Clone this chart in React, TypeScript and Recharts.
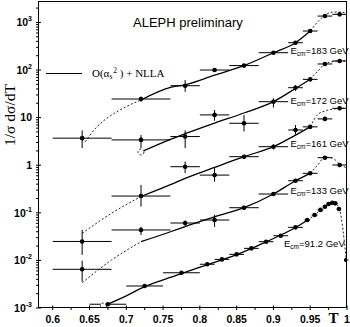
import React from "react";
import { ComposedChart, XAxis, YAxis, Scatter, Line, ErrorBar } from "recharts";

// ---- measured values (T, 1/sigma dsigma/dT) ----
const t183 = [0.64, 0.72, 0.78, 0.82, 0.86, 0.9, 0.93, 0.95, 0.97, 0.99];
const v183 = [3.7, 24.6, 46.8, 100, 124, 231, 375, 660, 1360, 1480];
const dx183 = [0.04, 0.04, 0.02, 0.02, 0.02, 0.02, 0.01, 0.01, 0.01, 0.01];
const lo183 = [1.4, 3, 12, 8, 8, 12, 20, 30, 60, 60];
const hi183 = [1.7, 3, 15, 8, 8, 12, 20, 30, 60, 60];

const t172 = [0.72, 0.78, 0.82, 0.86, 0.9, 0.93, 0.95, 0.97, 0.99];
const v172 = [3.4, 4.0, 11.4, 7.6, 21.6, 42.5, 63.7, 134, 155];
const dx172 = [0.04, 0.02, 0.02, 0.02, 0.02, 0.01, 0.01, 0.01, 0.01];
const lo172 = [1.1, 1.7, 2.8, 2.5, 5.3, 6, 5, 8, 8];
const hi172 = [0.9, 1.4, 3.1, 3.8, 4.0, 6, 5, 8, 8];

const t161 = [0.64, 0.72, 0.78, 0.82, 0.86, 0.9, 0.93, 0.95, 0.97, 0.99];
const v161 = [0.025, 0.225, 0.93, 0.62, 1.51, 2.45, 5.5, 6.4, 9.4, 15.7];
const dx161 = [0.04, 0.04, 0.02, 0.02, 0.02, 0.02, 0.01, 0.01, 0.01, 0.01];
const lo161 = [0.012, 0.09, 0.25, 0.17, 0.15, 0.3, 1.1, 0.6, 1, 1];
const hi161 = [0.019, 0.16, 0.27, 0.25, 0.15, 0.3, 1.5, 0.6, 1, 1];

const t133 = [0.64, 0.72, 0.78, 0.82, 0.86, 0.9, 0.93, 0.95, 0.97, 0.99];
const v133 = [0.0065, 0.0436, 0.061, 0.0706, 0.128, 0.248, 0.472, 0.676, 1.44, 1.01];
const dx133 = [0.04, 0.04, 0.02, 0.02, 0.02, 0.02, 0.01, 0.01, 0.01, 0.01];
const lo133 = [0.0029, 0.0096, 0.008, 0.02, 0.012, 0.02, 0.04, 0.05, 0.1, 0.1];
const hi133 = [0.0034, 0.0074, 0.008, 0.02, 0.012, 0.02, 0.04, 0.05, 0.1, 0.1];

const t91 = [0.675, 0.725, 0.775, 0.81, 0.83, 0.85, 0.87, 0.89, 0.91, 0.93, 0.946, 0.956, 0.964, 0.97, 0.975, 0.98, 0.984, 0.989, 0.999];
const v91 = [0.0012, 0.0029, 0.0055, 0.0083, 0.0105, 0.0134, 0.0179, 0.0247, 0.033, 0.0495, 0.0706, 0.09, 0.115, 0.134, 0.153, 0.163, 0.158, 0.12, 0.0102];
const dx91 = [0.025, 0.025, 0.025, 0.01, 0.01, 0.01, 0.01, 0.01, 0.01, 0.01, 0.004, 0.004, 0.004, 0.003, 0.003, 0.003, 0.003, 0.003, 0.003];

// ---- O(as^2)+NLLA curves ----
const ct183 = [0.644, 0.66, 0.68, 0.7, 0.72, 0.76, 0.78, 0.82, 0.86, 0.9, 0.93, 0.95, 0.96, 0.97, 0.98, 0.99, 1.0];
const cv183 = [3.1, 6.4, 11.3, 17, 23.5, 43, 49, 78, 124, 231, 375, 660, 1020, 1400, 1650, 1650, 1540];
const ct172 = [0.72, 0.76, 0.78, 0.82, 0.86, 0.9, 0.93, 0.95, 0.96, 0.97, 0.98, 0.99, 1.0];
const cv172 = [1.9, 3.5, 4.6, 7.7, 12.5, 21.6, 41, 64, 93, 134, 149, 155, 155];
const ct161 = [0.64, 0.68, 0.72, 0.76, 0.78, 0.82, 0.86, 0.9, 0.93, 0.95, 0.96, 0.97, 0.98, 0.99, 1.0];
const cv161 = [0.037, 0.098, 0.22, 0.39, 0.53, 0.9, 1.51, 2.45, 4.3, 6.4, 11.5, 13.8, 15, 15.5, 15.9];
const ct133 = [0.64, 0.68, 0.72, 0.76, 0.78, 0.82, 0.86, 0.9, 0.93, 0.95, 0.96, 0.97, 0.98, 0.99, 1.0];
const cv133 = [0.0034, 0.0102, 0.0247, 0.04, 0.0515, 0.082, 0.128, 0.248, 0.472, 0.676, 1.0, 1.48, 1.42, 1.06, 0.87];
const ct91 = [0.669, 0.7, 0.725, 0.75, 0.775, 0.81, 0.85, 0.89, 0.93, 0.946, 0.956, 0.964, 0.972, 0.98, 0.985, 0.99, 0.999];
const cv91 = [0.0011, 0.0018, 0.0028, 0.0039, 0.0053, 0.0081, 0.0132, 0.0245, 0.049, 0.07, 0.09, 0.115, 0.145, 0.163, 0.155, 0.115, 0.0102];

// where each curve is drawn solid (dashed outside)
const solid183 = [0.72, 0.95];
const solid172 = [0.72, 0.95];
const solid161 = [0.72, 0.95];
const solid133 = [0.72, 0.95];
const solid91 = [0.669, 0.946];

const energies = ["183", "172", "161", "133", "91.2"];

// axes
const xTicks = [0.6, 0.625, 0.65, 0.675, 0.7, 0.725, 0.75, 0.775, 0.8, 0.825, 0.85, 0.875, 0.9, 0.925, 0.95, 0.975, 1.0];
const xLabels: Record<string, string> = {
  "0.6": "0.6", "0.65": "0.65", "0.7": "0.7", "0.75": "0.75", "0.8": "0.8",
  "0.85": "0.85", "0.9": "0.9", "0.95": "0.95", "1": "1",
};
const yDecades = [0.001, 0.01, 0.1, 1, 10, 100, 1000];
const yBase = ["10", "10", "10", "1", "10", "10", "10"];
const yExp = ["-3", "-2", "-1", "", "", "2", "3"];
const yMult = [1, 2, 3, 4, 5, 6, 7, 8, 9];

const W = 350;
const H = 327;
const LEFT = 38;
const TOP = 1;
const RIGHT_M = 3;
const X_AXIS_H = 19;
const Y_MAX = 2820;

const yTicks = yDecades.flatMap((d) => yMult.map((m) => m * d)).filter((v) => v <= Y_MAX);

type Pt = { T: number; v: number; ex: number; ey?: [number, number] };

function makePoints(t: number[], v: number[], dx: number[], lo?: number[], hi?: number[]): Pt[] {
  return t.map((T, i) => ({
    T,
    v: v[i],
    ex: dx[i],
    ey: lo && hi ? [lo[i], hi[i]] : undefined,
  }));
}

function splitCurve(t: number[], v: number[], range: number[]) {
  const pts = t.map((T, i) => ({ T, v: v[i] }));
  return {
    left: pts.filter((p) => p.T <= range[0] + 1e-9),
    mid: pts.filter((p) => p.T >= range[0] - 1e-9 && p.T <= range[1] + 1e-9),
    right: pts.filter((p) => p.T >= range[1] - 1e-9),
  };
}

const sets = [
  { pts: makePoints(t183, v183, dx183, lo183, hi183), curve: splitCurve(ct183, cv183, solid183) },
  { pts: makePoints(t172, v172, dx172, lo172, hi172), curve: splitCurve(ct172, cv172, solid172) },
  { pts: makePoints(t161, v161, dx161, lo161, hi161), curve: splitCurve(ct161, cv161, solid161) },
  { pts: makePoints(t133, v133, dx133, lo133, hi133), curve: splitCurve(ct133, cv133, solid133) },
  { pts: makePoints(t91, v91, dx91), curve: splitCurve(ct91, cv91, solid91) },
];

// label anchors (pixels)
const labelPos = [
  [290.5, 53.5],
  [290.5, 103.5],
  [290.5, 146.5],
  [290.5, 194],
  [284, 246.7],
];

const SANS = "'Liberation Sans', Arial, Helvetica, sans-serif";
const SERIF = "'Liberation Serif', 'Times New Roman', serif";

// eslint-disable-next-line @typescript-eslint/no-explicit-any
function XTick({ x, y, payload }: any) {
  const key = String(+payload.value.toFixed(3));
  const label = xLabels[key];
  const len = label ? 4.5 : 2.5;
  return (
    <g>
      <line x1={x} x2={x} y1={y} y2={y - len} stroke="#000" strokeWidth={1} />
      {label && (
        <text x={x} y={y + 13} textAnchor="middle" fontFamily={SANS} fontSize={10.5} fontWeight="bold" fill="#000">
          {label}
        </text>
      )}
    </g>
  );
}

// eslint-disable-next-line @typescript-eslint/no-explicit-any
function YTick({ x, y, payload }: any) {
  const idx = yDecades.findIndex((d) => Math.abs(payload.value / d - 1) < 1e-6);
  const major = idx >= 0;
  return (
    <g>
      <line x1={x} x2={x + (major ? 5 : 2.5)} y1={y} y2={y} stroke="#000" strokeWidth={1} />
      {major && (
        <text x={x - 4} y={y + 3.8} textAnchor="end" fontFamily={SANS} fontSize={10.5} fontWeight="bold" fill="#000">
          {yBase[idx]}
          {yExp[idx] && (
            <tspan fontSize={7} dy={-5}>
              {yExp[idx]}
            </tspan>
          )}
        </text>
      )}
    </g>
  );
}

// eslint-disable-next-line @typescript-eslint/no-explicit-any
const Dot = (p: any) => <circle cx={p.cx} cy={p.cy} r={2.3} fill="#000" />;

export default function App() {
  const plotW = W - LEFT - RIGHT_M;
  const plotH = H - TOP - X_AXIS_H;
  return (
    <div style={{ position: "absolute", left: 0, top: 0, width: W, height: H, background: "#fff" }}>
      <ComposedChart width={W} height={H} margin={{ top: TOP, right: RIGHT_M, bottom: 0, left: 0 }}>
        <XAxis
          type="number"
          dataKey="T"
          domain={[0.58, 1.0]}
          allowDataOverflow
          ticks={xTicks}
          interval={0}
          tick={<XTick />}
          tickSize={0}
          tickLine={false}
          axisLine={false}
          height={X_AXIS_H}
        />
        <YAxis
          type="number"
          scale="log"
          domain={[0.001, Y_MAX]}
          allowDataOverflow
          ticks={yTicks}
          interval={0}
          tick={<YTick />}
          tickSize={0}
          tickLine={false}
          axisLine={false}
          width={LEFT}
        />
        {sets.map((s, i) => [
          <Line key={`l${i}`} data={s.curve.left} dataKey="v" type="monotone" stroke="#222" strokeWidth={1} strokeDasharray="2 2" dot={false} isAnimationActive={false} />,
          <Line key={`m${i}`} data={s.curve.mid} dataKey="v" type="monotone" stroke="#000" strokeWidth={1.3} dot={false} isAnimationActive={false} />,
          <Line key={`r${i}`} data={s.curve.right} dataKey="v" type="monotone" stroke="#222" strokeWidth={1} strokeDasharray="2 2" dot={false} isAnimationActive={false} />,
        ])}
        {sets.map((s, i) => (
          <Scatter key={`s${i}`} data={s.pts} dataKey="v" shape={Dot} isAnimationActive={false}>
            <ErrorBar dataKey="ex" direction="x" width={0} stroke="#000" strokeWidth={1} />
            {i < 4 && <ErrorBar dataKey="ey" direction="y" width={0} stroke="#000" strokeWidth={1} />}
          </Scatter>
        ))}
      </ComposedChart>
      <svg width={W} height={H} style={{ position: "absolute", left: 0, top: 0, pointerEvents: "none" }}>
        <rect x={LEFT + 0.5} y={TOP + 0.5} width={plotW - 1} height={plotH - 1} fill="none" stroke="#000" strokeWidth={1} />
        <text x={133} y={27} fontFamily={SANS} fontSize={13} fill="#000">
          ALEPH preliminary
        </text>
        <line x1={46} x2={82} y1={73.5} y2={73.5} stroke="#000" strokeWidth={1.2} />
        <text x={92} y={76.5} fontFamily={SERIF} fontSize={11} fill="#000">
          O(α
          <tspan fontSize={7.5} dy={2.5}>s</tspan>
          <tspan fontSize={7.5} dy={-6.5} dx={1}>2</tspan>
          <tspan dy={4}> ) + NLLA</tspan>
        </text>
        {energies.map((e, i) => (
          <text key={e} x={labelPos[i][0]} y={labelPos[i][1]} fontFamily={SANS} fontSize={9.5} fill="#000">
            E
            <tspan fontSize={6.5} dy={2}>cm</tspan>
            <tspan dy={-2}>={e} GeV</tspan>
          </text>
        ))}
        <text
          transform={`translate(15, 115) rotate(-90)`}
          textAnchor="middle"
          fontFamily={SERIF}
          fontSize={15.5}
          fill="#000"
        >
          1/σ dσ/dT
        </text>
        <text x={333.5} y={323} textAnchor="middle" fontFamily={SERIF} fontSize={15} fontWeight="bold" fill="#000">
          T
        </text>
      </svg>
    </div>
  );
}
